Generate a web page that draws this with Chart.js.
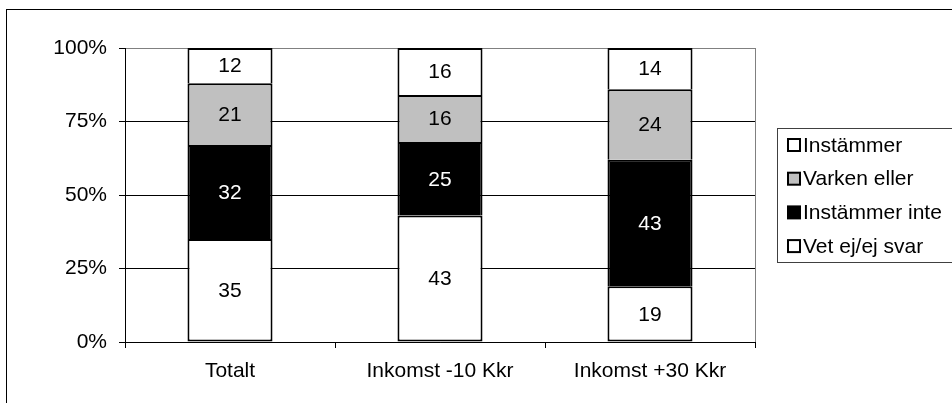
<!DOCTYPE html>
<html>
<head>
<meta charset="utf-8">
<title>Stacked bar chart</title>
<script src="https://cdn.jsdelivr.net/npm/chart.js@4"></script>
<style>
    html, body { margin: 0; padding: 0; background: #fff; }
    #chartBox { width: 952px; height: 403px; }
</style>
</head>
<body>
<div id="chartBox"><canvas id="surveyChart" width="952" height="403"></canvas></div>
<script>
// Data
const categories = ['Totalt', 'Inkomst -10 Kkr', 'Inkomst +30 Kkr'];
const vetEj = [35, 43, 19];
const instammerInte = [32, 25, 43];
const varkenEller = [21, 16, 24];
const instammer = [12, 16, 14];
const yTicks = [0, 25, 50, 75, 100];

const FONT = '"Liberation Sans", Arial, sans-serif';
const FONT_SIZE = 21;

// Stack order bottom -> top
const datasets = [
    { label: 'Vet ej/ej svar', data: vetEj, backgroundColor: '#ffffff', textColor: '#000' },
    { label: 'Instämmer inte', data: instammerInte, backgroundColor: '#000000', textColor: '#fff' },
    { label: 'Varken eller', data: varkenEller, backgroundColor: '#c0c0c0', textColor: '#000' },
    { label: 'Instämmer', data: instammer, backgroundColor: '#ffffff', textColor: '#000' }
].map((ds, i) => ({
    ...ds,
    borderColor: '#000',
    // each segment draws its own top line, so neighbours share one 2px line
    borderWidth: { left: 2, right: 2, top: 2, bottom: i === 0 ? 2 : 0 },
    borderSkipped: false,
    inflateAmount: 0,
    barPercentage: 0.405,
    categoryPercentage: 1
}));

// Outer frame + gray plot border
const framePlugin = {
    id: 'frame',
    beforeDraw(chart) {
        const { ctx, chartArea: a } = chart;
        ctx.save();
        ctx.fillStyle = '#fff';
        ctx.fillRect(0, 0, chart.width, chart.height);
        ctx.strokeStyle = '#000';
        ctx.lineWidth = 1;
        ctx.strokeRect(6.5, 9.5, 980, 420);
        ctx.strokeStyle = '#808080';
        ctx.strokeRect(a.left + 0.5, a.top + 0.5, a.right - a.left, a.bottom - a.top);
        ctx.restore();
    }
};

// Value labels inside each segment
const valueLabels = {
    id: 'valueLabels',
    afterDatasetsDraw(chart) {
        const { ctx } = chart;
        ctx.save();
        ctx.font = FONT_SIZE + 'px ' + FONT;
        ctx.textAlign = 'center';
        ctx.textBaseline = 'middle';
        chart.data.datasets.forEach((ds, i) => {
            chart.getDatasetMeta(i).data.forEach((bar, j) => {
                const p = bar.getCenterPoint();
                ctx.fillStyle = ds.textColor;
                ctx.fillText(String(ds.data[j]), p.x, p.y + 1);
            });
        });
        ctx.restore();
    }
};

// Legend box on the right
const legendBox = {
    id: 'legendBox',
    afterDraw(chart) {
        const { ctx } = chart;
        const x = 777, y = 128, rowH = 33.7;
        ctx.save();
        ctx.strokeStyle = '#404040';
        ctx.lineWidth = 1;
        ctx.strokeRect(x + 0.5, y + 0.5, 200, 134);
        ctx.font = FONT_SIZE + 'px ' + FONT;
        ctx.textBaseline = 'middle';
        const items = chart.data.datasets.slice().reverse();
        items.forEach((ds, i) => {
            const cy = y + 17 + i * rowH;
            ctx.fillStyle = ds.backgroundColor;
            ctx.fillRect(788, cy - 6, 12, 12);
            ctx.strokeStyle = '#000';
            ctx.lineWidth = 2;
            ctx.strokeRect(788, cy - 6, 12, 12);
            ctx.fillStyle = '#000';
            ctx.fillText(ds.label, 803, cy + 1);
        });
        ctx.restore();
    }
};

new Chart(document.getElementById('surveyChart'), {
    type: 'bar',
    data: { labels: categories, datasets: datasets },
    options: {
        responsive: false,
        animation: false,
        layout: { padding: { left: 0, top: 48, right: 197, bottom: 0 } },
        plugins: {
            legend: { display: false },
            tooltip: { enabled: false }
        },
        scales: {
            x: {
                stacked: true,
                afterFit: (scale) => { scale.height = 61; },
                border: { color: '#000', width: 1 },
                grid: {
                    offset: true,
                    drawOnChartArea: false,
                    drawTicks: true,
                    tickLength: 6,
                    color: '#000'
                },
                ticks: {
                    color: '#000',
                    padding: 11,
                    font: { family: FONT, size: FONT_SIZE }
                }
            },
            y: {
                stacked: true,
                min: 0,
                max: 100,
                afterFit: (scale) => { scale.width = 125; },
                afterBuildTicks: (scale) => {
                    scale.ticks = yTicks.map(v => ({ value: v }));
                },
                border: { color: '#000', width: 1 },
                grid: {
                    color: (c) => (c.tick && c.tick.value === 100 ? '#808080' : '#000'),
                    tickColor: '#000',
                    tickLength: 6,
                    lineWidth: 1
                },
                ticks: {
                    color: '#000',
                    padding: 12,
                    font: { family: FONT, size: FONT_SIZE },
                    callback: (v) => v + '%'
                }
            }
        }
    },
    plugins: [framePlugin, valueLabels, legendBox]
});
</script>
</body>
</html>
